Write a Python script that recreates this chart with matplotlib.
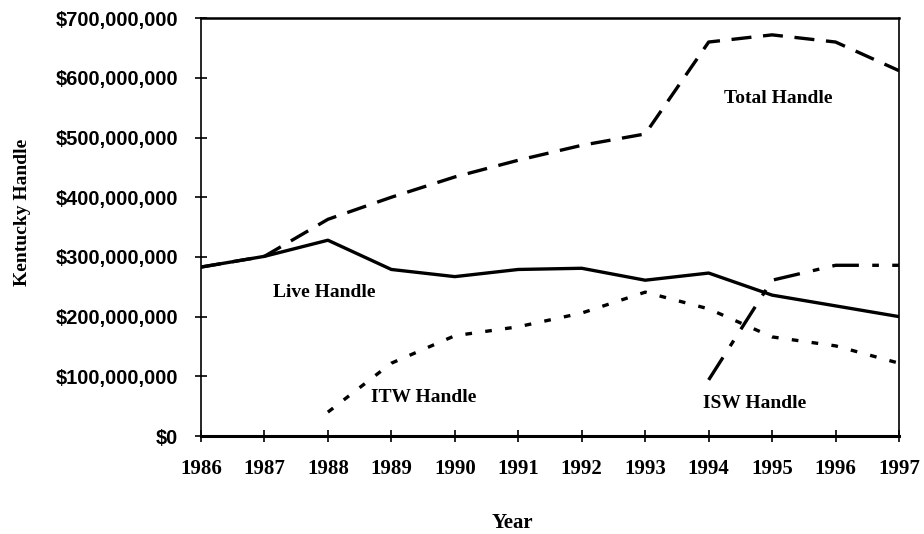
import matplotlib
matplotlib.use("Agg")
import matplotlib.pyplot as plt
from matplotlib.ticker import FuncFormatter

years = [1986, 1987, 1988, 1989, 1990, 1991, 1992, 1993, 1994, 1995, 1996, 1997]
total_handle = [283, 301, 363, 400, 434, 462, 487, 506, 660, 672, 660, 612]
live_handle = [283, 301, 328, 279, 267, 279, 281, 261, 273, 236, 218, 200]
itw_years = [1988, 1989, 1990, 1991, 1992, 1993, 1994, 1995, 1996, 1997]
itw_handle = [40, 122, 168, 183, 206, 241, 213, 166, 151, 122]
isw_years = [1994, 1995, 1996, 1997]
isw_handle = [94, 261, 286, 286]

serif = "Liberation Serif"
sans = "Liberation Sans"

fig = plt.figure(figsize=(9.24, 5.34), dpi=100)
ax = fig.add_axes([0.2175, 0.1835, 0.7555, 0.7825])

m = 1e6
ax.plot(years, [v * m for v in total_handle], color="black", lw=2.4,
        dashes=(6, 3.5))
ax.plot(years, [v * m for v in live_handle], color="black", lw=2.4)
ax.plot(itw_years, [v * m for v in itw_handle], color="black", lw=2.4,
        dashes=(2, 4))
ax.plot(isw_years, [v * m for v in isw_handle], color="black", lw=2.4,
        dashes=(8, 4, 2, 4))

ax.set_xlim(1986, 1997)
ax.set_ylim(0, 700e6)
ax.set_xticks(years)
ax.set_yticks([i * 100e6 for i in range(8)])
ax.yaxis.set_major_formatter(FuncFormatter(lambda v, p: "${:,.0f}".format(v)))

for lab in ax.get_yticklabels():
    lab.set_fontfamily(sans)
    lab.set_fontweight("bold")
    lab.set_fontsize(14.5)
for lab in ax.get_xticklabels():
    lab.set_fontfamily(serif)
    lab.set_fontweight("bold")
    lab.set_fontsize(15)

ax.tick_params(axis="both", direction="inout", length=9, width=1.2, color="black")
ax.tick_params(axis="y", pad=12)
ax.tick_params(axis="x", pad=12)
for side in ["left", "right", "top"]:
    ax.spines[side].set_linewidth(1.2)
ax.spines["top"].set_linewidth(1.8)
ax.spines["bottom"].set_linewidth(2.2)

ax.set_ylabel("Kentucky Handle", fontfamily=serif, fontweight="bold",
              fontsize=14, va="center")
ax.yaxis.set_label_coords(-0.255, 0.536)
ax.set_xlabel("Year", fontfamily=serif, fontweight="bold", fontsize=15,
              va="center")
ax.xaxis.set_label_coords(0.446, -0.208)

lbl = dict(fontfamily=serif, fontweight="bold", fontsize=14, ha="center",
           va="center")
ax.text(1995.09, 566e6, "Total Handle", **lbl)
ax.text(1987.94, 240e6, "Live Handle", **lbl)
ax.text(1989.51, 65e6, "ITW Handle", **lbl)
ax.text(1994.73, 55e6, "ISW Handle", **lbl)

fig.savefig("out.png", dpi=100)
